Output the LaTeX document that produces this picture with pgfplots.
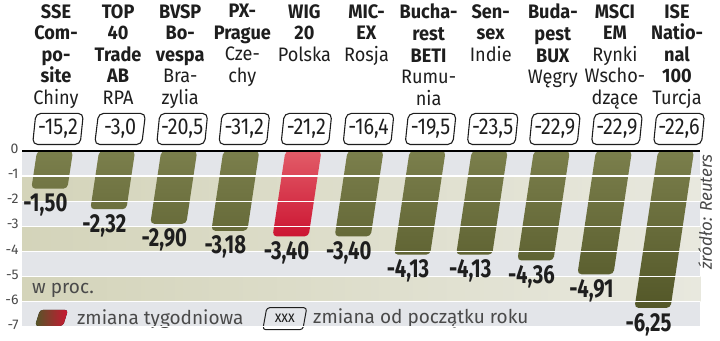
\documentclass[border=0pt]{standalone}
\usepackage{fontspec}
\setmainfont{Fira Sans}
\newfontfamily\condfont[FakeStretch=0.78]{Fira Sans}
\newfontfamily\boxfont[FakeStretch=0.86]{Fira Sans}
\newfontfamily\midfont[FakeStretch=0.93]{Fira Sans}
\usepackage{pgfplots}
\pgfplotsset{compat=1.18}
\usepackage{pgfplotstable}
\usetikzlibrary{shapes.geometric}

\definecolor{olivetop}{HTML}{7B7F4C}
\definecolor{olivebot}{HTML}{535728}
\definecolor{redtop}{HTML}{E25C68}
\definecolor{redbot}{HTML}{CC1532}
\definecolor{bandgrey}{HTML}{E3E5E9}
\definecolor{bandbeigeL}{HTML}{D4D4BA}
\definecolor{bandbeigeR}{HTML}{E8E8DE}
\definecolor{txt}{HTML}{1E1E1E}
\definecolor{ticktxt}{HTML}{4A4A4A}

\newcommand{\B}[1]{\textbf{#1}}

\pgfplotstableread{
x  y      lab
0  -1.50  -1,50
1  -2.32  -2,32
2  -2.90  -2,90
3  -3.18  -3,18
5  -3.40  -3,40
6  -4.13  -4,13
7  -4.13  -4,13
8  -4.36  -4,36
9  -4.91  -4,91
10 -6.25  -6,25
}\greentab

\pgfplotstableread{
x  y      lab
4  -3.40  -3,40
}\redtab

\pgfplotstableread{
x  y  ytd
0  0  -15,2
1  0  -3,0
2  0  -20,5
3  0  -31,2
4  0  -21,2
5  0  -16,4
6  0  -19,5
7  0  -23,5
8  0  -22,9
9  0  -22,9
10 0  -22,6
}\ytdtab

\begin{document}
\begin{tikzpicture}
\begin{axis}[
  disabledatascaling,
  x=62.1pt, y=25.1pt,
  xmin=-0.53, xmax=10.39, ymin=-7, ymax=0,
  axis x line*=top, axis y line*=left,
  x axis line style={draw=black, line width=2pt, -},
  y axis line style={draw=none},
  xtick={0,...,10},
  xticklabels={
    {\B{SSE}\\\B{Com-}\\\B{po-}\\\B{site}\\Chiny},
    {\B{TOP}\\\B{40}\\\B{Trade}\\\B{AB}\\RPA},
    {\B{BVSP}\\\B{Bo-}\\\B{vespa}\\Bra-\\zylia},
    {\B{PX-}\\\B{Prague}\\Cze-\\chy},
    {\B{WIG}\\\B{20}\\Polska},
    {\B{MIC-}\\\B{EX}\\Rosja},
    {\B{Bucha-}\\\B{rest}\\\B{BETI}\\Rumu-\\nia},
    {\B{Sen-}\\\B{sex}\\Indie},
    {\B{Buda-}\\\B{pest}\\\B{BUX}\\Węgry},
    {\B{MSCI}\\\B{EM}\\Rynki\\Wscho-\\dzące},
    {\B{ISE}\\\B{Natio-}\\\B{nal}\\\B{100}\\Turcja}
  },
  xticklabel style={anchor=north, yshift=147pt, xshift=1pt, align=center, inner sep=0pt,
    font=\midfont\fontsize{19.5}{21.6}\selectfont, text=txt},
  ytick={-7,...,0},
  yticklabel style={font=\fontsize{14}{14}\selectfont, text=ticktxt, yshift=2pt},
  /pgf/number format/assume math mode=true,
  major tick style={draw=none},
  ymajorgrids, grid style={white, line width=1.4pt},
  axis on top,
  clip=false,
]
% background bands
\fill[bandgrey] (axis cs:-0.53,-7) rectangle (axis cs:10.39,0);
\fill[left color=bandbeigeL, right color=bandbeigeR] (axis cs:-0.53,-2) rectangle (axis cs:10.39,-1);
\fill[left color=bandbeigeL, right color=bandbeigeR] (axis cs:-0.53,-4) rectangle (axis cs:10.39,-3);
\fill[left color=bandbeigeL, right color=bandbeigeR] (axis cs:-0.53,-6) rectangle (axis cs:10.39,-5);

% weekly change bars
\addplot[ybar, bar width=36pt, draw=none, rounded corners=4pt,
  top color=olivetop, bottom color=olivebot, xslant=0.15,
  nodes near coords, point meta=explicit symbolic,
  nodes near coords style={anchor=north, yshift=-4pt, xshift=-4pt, inner sep=1pt,
    font=\condfont\bfseries\fontsize{26}{26}\selectfont, text=txt}
] table[x=x, y=y, meta=lab] {\greentab};
\addplot[ybar, bar width=36pt, draw=none, rounded corners=4pt,
  top color=redtop, bottom color=redbot, xslant=0.15,
  nodes near coords, point meta=explicit symbolic,
  nodes near coords style={anchor=north, yshift=-4pt, xshift=-4pt, inner sep=1pt,
    font=\condfont\bfseries\fontsize{26}{26}\selectfont, text=txt}
] table[x=x, y=y, meta=lab] {\redtab};

% year-to-date boxes
\addplot[draw=none, mark=none,
  nodes near coords, point meta=explicit symbolic,
  nodes near coords style={anchor=south, yshift=6pt, xshift=3pt,
    shape=trapezium, trapezium left angle=82, trapezium right angle=98,
    trapezium stretches=true, minimum width=51pt, minimum height=31pt, inner sep=1pt,
    draw=txt, line width=1.1pt, rounded corners=5pt,
    font=\boxfont\fontsize{23}{23}\selectfont, text=txt}
] table[x=x, y=y, meta=ytd] {\ytdtab};

% annotations
\node[anchor=west, font=\fontsize{19}{19}\selectfont, text=ticktxt, inner sep=0pt] at (axis cs:-0.37,-5.56) {w proc.};
\coordinate (LI) at (axis cs:-0.056,-6.65);
\fill[left color=olivebot, right color=redbot, rounded corners=3pt]
  ([shift={(-16.5pt,-8pt)}]LI) -- ([shift={(11.5pt,-8pt)}]LI) -- ([shift={(16.5pt,8pt)}]LI) -- ([shift={(-11.5pt,8pt)}]LI) -- cycle;
\node[anchor=west, font=\fontsize{19}{19}\selectfont, text=ticktxt, inner sep=0pt] at (axis cs:0.354,-6.68) {zmiana tygodniowa};
\node[shape=trapezium, trapezium left angle=78, trapezium right angle=102, trapezium stretches=true,
  minimum width=44pt, minimum height=22pt, inner sep=2pt, draw=txt, line width=1pt, rounded corners=3pt,
  font=\boxfont\fontsize{16}{16}\selectfont, text=txt] at (axis cs:3.70,-6.68) {xxx};
\node[anchor=west, font=\fontsize{19}{19}\selectfont, text=ticktxt, inner sep=0pt] at (axis cs:4.155,-6.68) {zmiana od początku roku};
\node[rotate=90, font=\itshape\fontsize{17}{17}\selectfont, text=ticktxt, inner sep=0pt] at (axis cs:10.47,-2.43) {źródło: Reuters};
\coordinate (BBL) at (axis cs:-0.8857,-7.530);
\coordinate (BTR) at (axis cs:10.708,6.016);
\end{axis}
\pgfresetboundingbox
\path[use as bounding box] (BBL) rectangle (BTR);
\end{tikzpicture}
\end{document}
